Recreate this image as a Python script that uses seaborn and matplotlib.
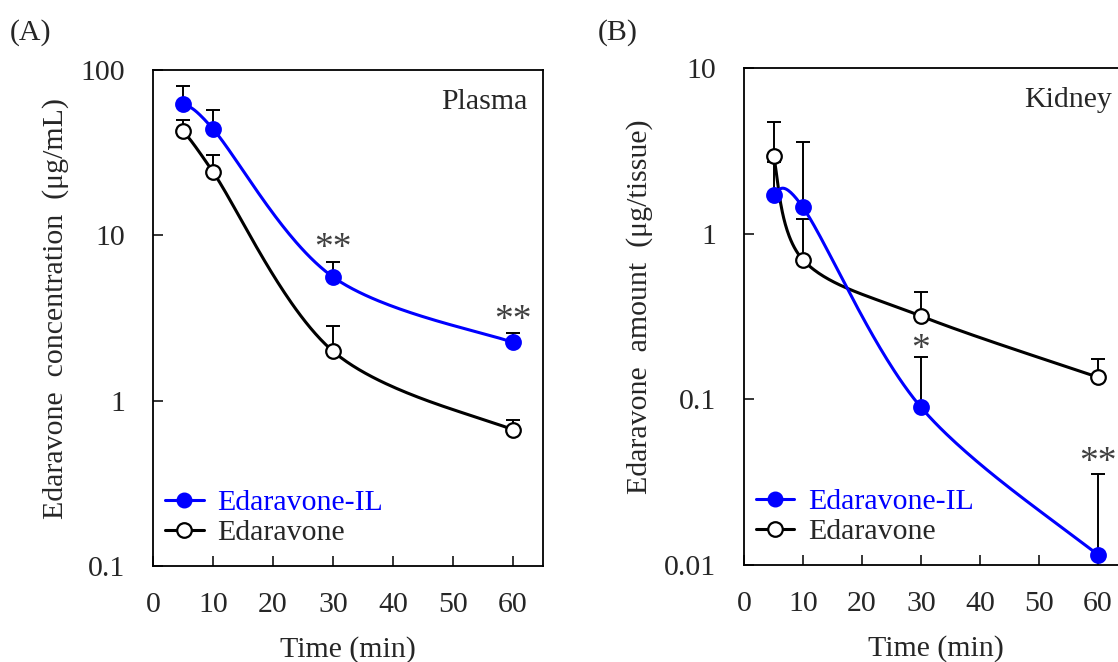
import numpy as np
import matplotlib.pyplot as plt
import seaborn as sns
from matplotlib.lines import Line2D

# Data (mean, upper SD)
time = [5, 10, 30, 60]

plasma_il = [62, 44, 5.6, 2.25]
plasma_il_sd = [18, 13, 1.3, 0.31]
plasma_ed = [43, 24.2, 1.99, 0.665]
plasma_ed_sd = [6.6, 6.5, 0.84, 0.10]

kidney_il = [1.72, 1.44, 0.0895, 0.0115]
kidney_il_sd = [1.0, 2.16, 0.09, 0.024]
kidney_ed = [2.93, 0.695, 0.318, 0.136]
kidney_ed_sd = [1.77, 0.525, 0.127, 0.039]

# significance marks
plasma_sig_x = [30, 60]
plasma_sig_y = [8.3, 3.05]
plasma_sig = ["**", "**"]
kidney_sig_x = [30, 60]
kidney_sig_y = [0.198, 0.0415]
kidney_sig = ["*", "**"]

BLUE = "#0000ff"
FS = 21.5

sns.set_style("ticks")
plt.rcParams['font.family'] = ['Liberation Serif', 'DejaVu Serif']
plt.rcParams['font.size'] = FS


def smooth(x, y, w_px, h_px, xspan, ndec, n=60):
    # Excel-like smoothed line (Bezier through points) in screen space
    P = np.column_stack([np.asarray(x) / xspan * w_px,
                         np.log10(y) / ndec * h_px])
    Pe = np.vstack([P[0], P, P[-1]])
    t = np.linspace(0, 1, n)[:, None]
    out = []
    for i in range(len(P) - 1):
        p0, p1, p2, p3 = Pe[i], Pe[i + 1], Pe[i + 2], Pe[i + 3]
        c1 = p1 + (p2 - p0) / 6
        c2 = p2 - (p3 - p1) / 6
        seg = (1 - t) ** 3 * p1 + 3 * (1 - t) ** 2 * t * c1 + 3 * (1 - t) * t ** 2 * c2 + t ** 3 * p2
        out.append(seg if i == 0 else seg[1:])
    out = np.vstack(out)
    return out[:, 0] * xspan / w_px, 10 ** (out[:, 1] * ndec / h_px)


def panel(ax, il, il_sd, ed, ed_sd, ylim, yticks, yticklabels, ylabel, tag,
          sig_x, sig_y, sig, w_px, h_px):
    ax.set_yscale('log')
    ax.set_xlim(0, 65)
    ax.set_ylim(*ylim)
    ndec = np.log10(ylim[1] / ylim[0])

    ax.errorbar(time, ed, yerr=[np.zeros(4), ed_sd], fmt='none', ecolor='black',
                elinewidth=1.4, capsize=5, capthick=1.4, zorder=2)
    ax.errorbar(time, il, yerr=[np.zeros(4), il_sd], fmt='none', ecolor='black',
                elinewidth=1.4, capsize=5, capthick=1.4, zorder=2)

    sx, sy = smooth(time, ed, w_px, h_px, 65, ndec)
    sns.lineplot(x=sx, y=sy, sort=False, estimator=None, color='black', lw=2.2, ax=ax, zorder=3)
    sx, sy = smooth(time, il, w_px, h_px, 65, ndec)
    sns.lineplot(x=sx, y=sy, sort=False, estimator=None, color=BLUE, lw=2.2, ax=ax, zorder=4)

    ax.plot(time, ed, 'o', ms=10.5, mfc='white', mec='black', mew=1.6, zorder=5)
    ax.plot(time, il, 'o', ms=10.5, mfc=BLUE, mec=BLUE, mew=1.6, zorder=6)

    for x, y, s in zip(sig_x, sig_y, sig):
        ax.text(x, y, s, ha='center', va='center', color='#404040', fontsize=27)

    ax.set_xticks(range(0, 61, 10))
    ax.set_yticks(yticks)
    ax.set_yticklabels(yticklabels)
    ax.minorticks_off()
    ax.tick_params(direction='in', length=7, width=1.3, labelsize=FS, pad=19)
    ax.tick_params(axis='y', pad=20)
    for sp in ax.spines.values():
        sp.set_linewidth(1.3)
        sp.set_color('black')
    ax.set_xlabel("Time (min)", fontsize=FS, labelpad=13)
    ax.set_ylabel(ylabel, fontsize=FS, labelpad=8)
    ax.yaxis.label.set_y(0.52)
    ax.text(0.96, 0.935, tag, transform=ax.transAxes, ha='right', va='center', fontsize=FS)

    handles = [
        Line2D([], [], color=BLUE, lw=2.2, marker='o', ms=10.5, mfc=BLUE, mec=BLUE),
        Line2D([], [], color='black', lw=2.2, marker='o', ms=10.5, mfc='white', mec='black', mew=1.6),
    ]
    leg = ax.legend(handles, ["Edaravone-IL", "Edaravone"], loc='lower left',
                    bbox_to_anchor=(0.03, 0.04), frameon=False, borderpad=0,
                    borderaxespad=0, handlelength=1.3, handletextpad=0.45,
                    labelspacing=0.1, fontsize=FS)
    leg.get_texts()[0].set_color(BLUE)


fig = plt.figure(figsize=(11.18, 6.62), dpi=100)
axA = fig.add_axes([153 / 1118, 1 - 566 / 662, 390 / 1118, 496 / 662])
axB = fig.add_axes([744 / 1118, 1 - 565 / 662, 383.5 / 1118, 497 / 662])

panel(axA, plasma_il, plasma_il_sd, plasma_ed, plasma_ed_sd, (0.1, 100),
      [0.1, 1, 10, 100], ["0.1", "1", "10", "100"],
      "Edaravone  concentration  (\u03bcg/mL)", "Plasma",
      plasma_sig_x, plasma_sig_y, plasma_sig, 390, 496)
panel(axB, kidney_il, kidney_il_sd, kidney_ed, kidney_ed_sd, (0.01, 10),
      [0.01, 0.1, 1, 10], ["0.01", "0.1", "1", "10"],
      "Edaravone  amount  (\u03bcg/tissue)", "Kidney",
      kidney_sig_x, kidney_sig_y, kidney_sig, 383.5, 497)

fig.text(10 / 1118, 1 - 33 / 662, "(A)", va='center', ha='left', fontsize=FS)
fig.text(598 / 1118, 1 - 33 / 662, "(B)", va='center', ha='left', fontsize=FS)

fig.savefig("out.png", dpi=100)
